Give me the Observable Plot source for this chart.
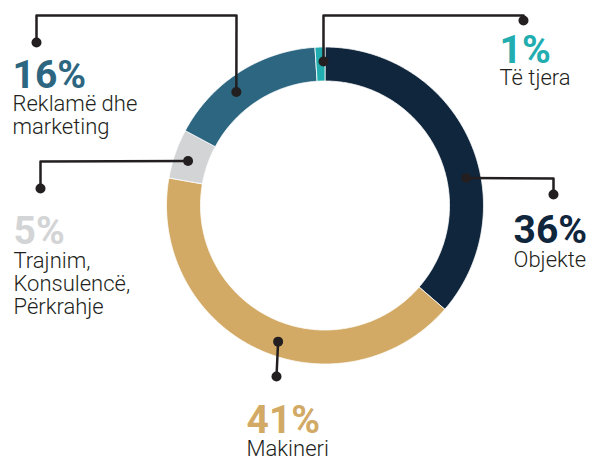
<!DOCTYPE html>
<html>
<head>
<meta charset="utf-8">
<script src="https://cdn.jsdelivr.net/npm/d3@7"></script>
<script src="https://cdn.jsdelivr.net/npm/@observablehq/plot@0.6"></script>
<style>
  html, body { margin: 0; padding: 0; background: #fff; overflow: hidden; }
  #chart svg { display: block; }
</style>
</head>
<body>
<div id="chart"></div>
<script>
// ---- data ----
const categories = ["Objekte", "Makineri", "Trajnim, Konsulencë, Përkrahje", "Reklamë dhe marketing", "Të tjera"];
const values = [36, 41, 5, 16, 1];
const labelLines = ["Objekte", "Makineri", "Trajnim,\nKonsulencë,\nPërkrahje", "Reklamë dhe\nmarketing", "Të tjera"];
const colors = ["#0f263d", "#d2aa66", "#d3d4d6", "#2c6681", "#22adb0"];

// ---- layout ----
const W = 594, H = 457;
const cx = 324.5, cy = 205, R = 158.5, r = 124.5, rDot = 144;
// leader: dot angle (deg clockwise from top) + elbow points + end dot; label anchor
const leaders = [
  {angle: 79,  pts: [[553, 178], [553, 194]], px: 513, py: 242, ly: 266},
  {angle: 199, pts: [[276, 376]],             px: 246, py: 432, ly: 455},
  {angle: 288, pts: [[40, 161], [40, 188]],   px: 13,  py: 243, ly: 313},
  {angle: 322, pts: [[236, 15], [36, 15], [36, 42]], px: 12, py: 87, ly: 133},
  {angle: 359.4, pts: [[323, 15], [523, 15], [523, 20]], px: 499, py: 62, ly: 84}
];

// ---- derived ring polygons ----
const total = d3.sum(values);
const ring = [];
let acc = 0;
values.forEach((v, i) => {
  const a0 = acc / total * 2 * Math.PI;
  acc += v;
  const a1 = acc / total * 2 * Math.PI;
  const n = Math.max(4, Math.ceil((a1 - a0) / 0.01));
  const pts = [];
  for (let k = 0; k <= n; k++) {
    const a = a0 + (a1 - a0) * k / n;
    pts.push({cat: categories[i], x: cx + R * Math.sin(a), y: cy - R * Math.cos(a)});
  }
  for (let k = n; k >= 0; k--) {
    const a = a0 + (a1 - a0) * k / n;
    pts.push({cat: categories[i], x: cx + r * Math.sin(a), y: cy - r * Math.cos(a)});
  }
  pts.push(pts[0]);
  ring.push(...pts);
});

const leaderPts = [];
const endDots = [];
leaders.forEach((l, i) => {
  const a = l.angle * Math.PI / 180;
  const start = [cx + rDot * Math.sin(a), cy - rDot * Math.cos(a)];
  const all = [start, ...l.pts];
  all.forEach(p => leaderPts.push({cat: categories[i], x: p[0], y: p[1]}));
  endDots.push({x: start[0], y: start[1]});
  endDots.push({x: all[all.length - 1][0], y: all[all.length - 1][1]});
});

const pctLabels = values.map((v, i) => ({cat: categories[i], text: `${v}%`, x: leaders[i].px, y: leaders[i].py}));
const nameLabels = labelLines.map((t, i) => ({text: t, x: leaders[i].px, y: leaders[i].ly}));

const chart = Plot.plot({
  width: W, height: H,
  margin: 0,
  x: {domain: [0, W], range: [0, W], axis: null},
  y: {domain: [0, H], range: [0, H], axis: null},
  color: {domain: categories, range: colors},
  style: {background: "#fff"},
  marks: [
    Plot.line(ring, {x: "x", y: "y", z: "cat", fill: "cat", stroke: "#fff", strokeWidth: 0.8, curve: "linear"}),
    Plot.line(leaderPts, {x: "x", y: "y", z: "cat", stroke: "#231f20", strokeWidth: 2.5, curve: "linear"}),
    Plot.dot(endDots, {x: "x", y: "y", r: 5, fill: "#231f20"}),
    Plot.text(pctLabels, {x: "x", y: "y", text: "text", fill: "cat", textAnchor: "start", lineAnchor: "bottom",
      fontSize: 39, fontWeight: 700, fontFamily: "Roboto, sans-serif"}),
    Plot.text(nameLabels, {x: "x", y: "y", text: "text", fill: "#231f20", textAnchor: "start", lineAnchor: "bottom",
      fontSize: 22, fontWeight: 300, lineHeight: 1.04, fontFamily: "Roboto, sans-serif"})
  ]
});
document.getElementById("chart").appendChild(chart);
</script>
</body>
</html>
